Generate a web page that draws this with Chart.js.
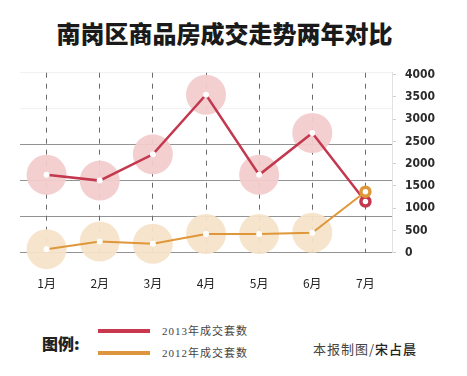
<!DOCTYPE html>
<html>
<head>
<meta charset="utf-8">
<script src="https://cdn.jsdelivr.net/npm/chart.js@4/dist/chart.umd.min.js"></script>
<style>
  body { margin: 0; background: #fff; width: 467px; height: 376px; position: relative; overflow: hidden; }
  #title { position: absolute; left: 0; width: 449px; top: 19px; text-align: center; font: 900 24px/28px "Noto Sans CJK SC"; color: #1a1a1a; }
  #wrap { position: absolute; left: 0; top: 50px; width: 467px; height: 250px; }
  .lg { position: absolute; }
  #tuli { left: 42px; top: 333px; font: 900 16px/20px "Noto Sans CJK SC"; color: #222; }
  .sw { position: absolute; left: 98px; width: 52px; height: 4px; }
  .lt { position: absolute; left: 162px; font: 11px/14px "Liberation Serif", "Noto Sans CJK SC"; color: #444; letter-spacing: 1px; }
  #credit { left: 313px; top: 340px; font: 13px/18px "Noto Sans CJK SC"; color: #444; letter-spacing: 1px; }
  #credit b { font-weight: 500; color: #222; }
</style>
</head>
<body>
<div id="title">南岗区商品房成交走势两年对比</div>
<div id="wrap"><canvas id="myChart" width="467" height="250"></canvas></div>
<div class="lg" id="tuli">图例:</div>
<div class="sw" style="top:329px;background:#c8394f"></div>
<div class="sw" style="top:351px;background:#dd963e"></div>
<div class="lt" style="top:324px">2013年成交套数</div>
<div class="lt" style="top:346px">2012年成交套数</div>
<div class="lg" id="credit">本报制图/<b>宋占晨</b></div>
<script>
let meses = ['1月', '2月', '3月', '4月', '5月', '6月', '7月'];
let vendas2013 = [1750, 1620, 2210, 3550, 1750, 2690, 1150];
let vendas2012 = [80, 250, 200, 420, 420, 450, 1370];
let tickValores = [0, 500, 1000, 1500, 2000, 2500, 3000, 3500, 4000];

let vermelho = '#c3384e';
let laranja = '#df973a';

// big circle only for the first six months, July gets a ring marker
function raioBola(ctx){
    return ctx.dataIndex == meses.length - 1 ? 0 : 20;
}
function raioPonto(ctx){
    return ctx.dataIndex == meses.length - 1 ? 4.5 : 3;
}

const ctx = document.getElementById('myChart').getContext('2d');
const myChart = new Chart(ctx, {
    type: 'line',
    data: {
        labels: meses,
        datasets: [
            {
                label: '2013年成交套数',
                data: vendas2013,
                borderColor: vermelho,
                borderWidth: 2.5,
                pointRadius: raioPonto,
                pointBackgroundColor: '#fff',
                pointBorderColor: function(c){ return c.dataIndex == meses.length - 1 ? vermelho : '#fff'; },
                pointBorderWidth: function(c){ return c.dataIndex == meses.length - 1 ? 3.5 : 0; },
                tension: 0,
                clip: false,
                order: 2
            },
            {
                label: '2012年成交套数',
                data: vendas2012,
                borderColor: laranja,
                borderWidth: 2,
                pointRadius: raioPonto,
                pointBackgroundColor: '#fff',
                pointBorderColor: function(c){ return c.dataIndex == meses.length - 1 ? laranja : '#fff'; },
                pointBorderWidth: function(c){ return c.dataIndex == meses.length - 1 ? 3.5 : 0; },
                tension: 0,
                clip: false,
                order: 1
            },
            {
                label: 'bola2013',
                data: vendas2013,
                showLine: false,
                pointRadius: raioBola,
                pointBackgroundColor: 'rgba(242,204,205,0.95)',
                pointBorderWidth: 0,
                clip: false,
                order: 10
            },
            {
                label: 'bola2012',
                data: vendas2012,
                showLine: false,
                pointRadius: raioBola,
                pointBackgroundColor: 'rgba(246,228,201,0.95)',
                pointBorderWidth: 0,
                clip: false,
                order: 11
            }
        ]
    },
    options: {
        responsive: false,
        animation: false,
        layout: { padding: { left: 20, right: 0, top: 22.7, bottom: 0 } },
        plugins: { legend: { display: false }, tooltip: { enabled: false }, title: { display: false } },
        scales: {
            x: {
                offset: true,
                grid: { offset: false, color: '#6b6b6b', lineWidth: 1, drawTicks: false },
                border: { display: false, dash: [5, 6] },
                ticks: { padding: 24, color: '#222', font: { family: 'Noto Sans CJK SC', size: 12 } },
                afterFit: function(axis){ axis.height = 47.3; }
            },
            y: {
                position: 'right',
                min: 0,
                max: 4045,
                afterBuildTicks: function(axis){
                    axis.ticks = tickValores.map(function(v){ return { value: v }; });
                },
                grid: { drawOnChartArea: false, drawTicks: true, tickLength: 4, color: '#cfcfcf' },
                border: { display: true, color: '#e2e2e2' },
                ticks: {
                    padding: 9,
                    color: '#2a2a2a',
                    font: { family: '"Liberation Sans Narrow", "DejaVu Sans Condensed", "Liberation Sans"', size: 12, weight: 'bold' },
                    callback: function(v){ return String(v); }
                },
                afterFit: function(axis){ axis.width = 75; }
            },
            linhas: {
                position: 'left',
                min: 0,
                max: 5,
                z: 1,
                ticks: { display: false, stepSize: 1 },
                grid: {
                    drawTicks: false,
                    lineWidth: 1,
                    color: function(c){ return c.tick && c.tick.value >= 4 ? 'rgba(200,200,200,0.25)' : 'rgba(110,110,110,0.75)'; }
                },
                border: { display: false },
                afterFit: function(axis){ axis.width = 0; }
            }
        }
    }
});
</script>
</body>
</html>
